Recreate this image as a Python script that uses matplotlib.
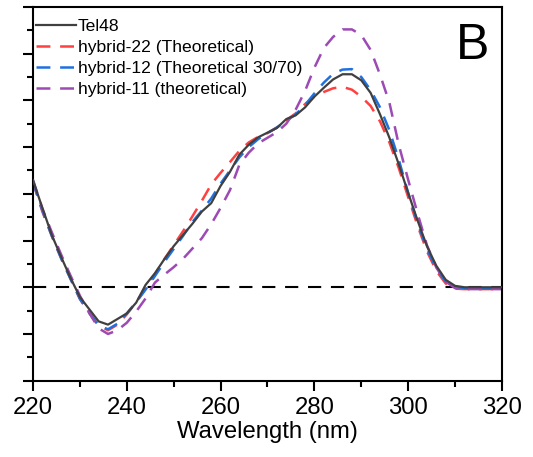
import numpy as np
import matplotlib
matplotlib.use('Agg')
import matplotlib.pyplot as plt

# CD spectra, y in arbitrary units (one major tick = 1)
wavelength = np.arange(220, 321, 2)

tel48 = [2.29, 1.70, 1.12, 0.65, 0.20, -0.21, -0.47, -0.73, -0.80, -0.68,
         -0.56, -0.33, 0.05, 0.30, 0.60, 0.88, 1.12, 1.36, 1.62, 1.80,
         2.17, 2.47, 2.84, 3.05, 3.21, 3.31, 3.41, 3.60, 3.68, 3.85,
         4.08, 4.27, 4.45, 4.56, 4.56, 4.43, 4.16, 3.70, 3.20, 2.63,
         2.02, 1.43, 0.88, 0.46, 0.16, 0.03, 0.00, 0.00, 0.00, 0.00, 0.00]

hybrid22 = [2.25, 1.62, 1.10, 0.62, 0.18, -0.25, -0.55, -0.82, -0.92, -0.80,
            -0.58, -0.32, -0.02, 0.28, 0.60, 0.90, 1.20, 1.52, 1.85, 2.20,
            2.45, 2.68, 2.92, 3.10, 3.22, 3.30, 3.42, 3.58, 3.72, 3.92,
            4.08, 4.18, 4.26, 4.29, 4.23, 4.08, 3.88, 3.55, 3.10, 2.55,
            1.93, 1.32, 0.77, 0.35, 0.08, -0.03, -0.04, -0.04, -0.04, -0.04, -0.04]

hybrid12 = [2.25, 1.64, 1.10, 0.62, 0.18, -0.25, -0.55, -0.82, -0.90, -0.78,
            -0.56, -0.32, -0.05, 0.24, 0.54, 0.82, 1.10, 1.40, 1.64, 1.90,
            2.22, 2.50, 2.78, 3.00, 3.17, 3.30, 3.42, 3.56, 3.70, 3.90,
            4.15, 4.38, 4.57, 4.66, 4.67, 4.50, 4.22, 3.85, 3.36, 2.73,
            2.02, 1.38, 0.82, 0.40, 0.12, 0.01, -0.02, -0.03, -0.03, -0.03, -0.03]

hybrid11 = [2.30, 1.68, 1.18, 0.70, 0.25, -0.18, -0.55, -0.88, -1.00, -0.92,
            -0.76, -0.52, -0.24, 0.10, 0.27, 0.43, 0.61, 0.83, 1.05, 1.35,
            1.70, 2.08, 2.62, 2.88, 3.08, 3.20, 3.32, 3.50, 3.80, 4.20,
            4.70, 5.12, 5.36, 5.52, 5.52, 5.40, 5.08, 4.55, 3.95, 3.05,
            2.30, 1.58, 0.90, 0.42, 0.12, -0.02, -0.04, -0.04, -0.04, -0.04, -0.04]

labels = ['Tel48', 'hybrid-22 (Theoretical)', 'hybrid-12 (Theoretical 30/70)',
          'hybrid-11 (theoretical)']

plt.rcParams['font.family'] = ['Liberation Sans', 'DejaVu Sans']
plt.rcParams['lines.scale_dashes'] = False

fig = plt.figure(figsize=(5.33, 4.57), dpi=100)
ax = fig.add_axes([0.0619, 0.167, 0.8799, 0.8177])

dash = (0, (10, 7))
ax.axhline(0, color='black', lw=1.5, ls=(0, (9.5, 7)), zorder=1)
ax.plot(wavelength, tel48, color='#404040', lw=1.6, label=labels[0], zorder=3)
ax.plot(wavelength, hybrid22, color='#ff4040', lw=1.8, ls=dash, label=labels[1], zorder=2)
ax.plot(wavelength, hybrid12, color='#2070e0', lw=1.8, ls=dash, label=labels[2], zorder=2)
ax.plot(wavelength, hybrid11, color='#9d4ab4', lw=1.8, ls=dash, label=labels[3], zorder=2)

ax.set_xlim(220, 320)
ax.set_ylim(-2, 6)
ax.set_xticks(np.arange(220, 321, 20))
ax.set_xticks(np.arange(230, 320, 20), minor=True)
ax.set_yticks(np.arange(-2, 7, 1))
ax.set_yticks(np.arange(-1.5, 6, 1), minor=True)
ax.set_yticklabels([])
ax.tick_params(axis='both', which='major', direction='out', length=7.5, width=1.5,
               labelsize=17.2, pad=4.5)
ax.tick_params(axis='both', which='minor', direction='out', length=4, width=1.5)
for s in ax.spines.values():
    s.set_linewidth(1.5)
ax.set_xlabel('Wavelength (nm)', fontsize=17.2, labelpad=1.5)

ax.text(0.972, 0.861, 'B', transform=ax.transAxes, fontsize=36,
        ha='right', va='baseline')

ax.legend(loc='upper left', bbox_to_anchor=(0.006, 0.968), frameon=False,
          fontsize=12.6, handlelength=2.29, handletextpad=0.1,
          labelspacing=0.33, borderpad=0, borderaxespad=0)

fig.savefig('out.png', dpi=100)
